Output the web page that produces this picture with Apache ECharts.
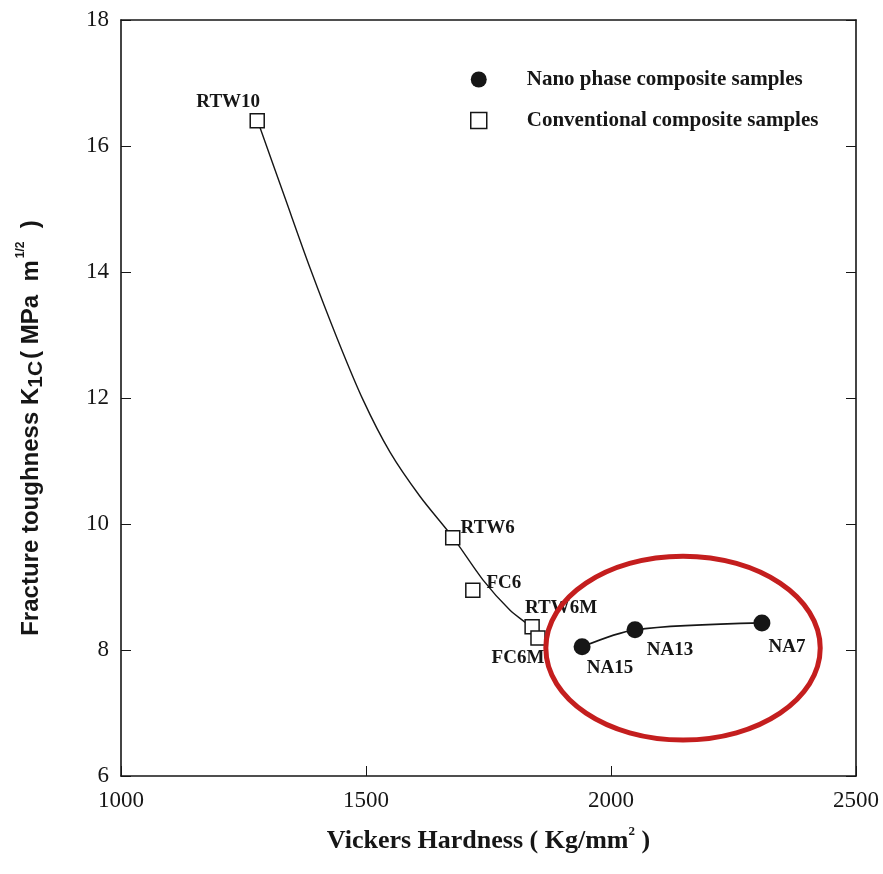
<!DOCTYPE html>
<html>
<head>
<meta charset="utf-8">
<script src="https://cdn.jsdelivr.net/npm/echarts@6/dist/echarts.min.js"></script>
<style>
  html, body { margin: 0; padding: 0; background: #fff; }
  #chart { width: 883px; height: 874px; }
</style>
</head>
<body>
<div id="chart"></div>
<script>
// Samples: Vickers hardness (Kg/mm^2) vs fracture toughness K1C (MPa m^1/2)
var conventionalNames = ['RTW10', 'RTW6', 'FC6', 'RTW6M', 'FC6M'];
var conventionalHardness = [1278, 1677, 1718, 1839, 1851];
var conventionalToughness = [16.4, 9.78, 8.95, 8.37, 8.19];

var nanoNames = ['NA15', 'NA13', 'NA7'];
var nanoHardness = [1941, 2049, 2308];
var nanoToughness = [8.05, 8.32, 8.43];

// Fitted trend through the conventional samples
var trendHardness = [1282, 1335, 1386, 1441, 1494, 1549, 1610, 1678, 1739, 1794, 1835, 1855];
var trendToughness = [16.33, 15.17, 14.06, 12.95, 11.97, 11.14, 10.44, 9.78, 9.11, 8.63, 8.37, 8.13];

// Axis ranges and ticks
var xTicks = [1000, 1500, 2000, 2500];
var yTicks = [6, 8, 10, 12, 14, 16, 18];

// Highlighted nano-phase region (data units)
var highlightCenter = [2147, 8.03];
var highlightRadius = [280, 1.46];

var legendNano = 'Nano phase composite samples';
var legendConv = 'Conventional composite samples';

// label offsets relative to each marker
var labelOffsets = {
  RTW10: [-29, -19], RTW6: [35, -10], FC6: [31, -7], RTW6M: [29, -19], FC6M: [-20, 20],
  NA15: [28, 21], NA13: [35, 20], NA7: [25, 24]
};

var serif = '"Liberation Serif", "DejaVu Serif", serif';
var sans = '"Liberation Sans", "DejaVu Sans", sans-serif';
var ink = '#161616';

function zip(xs, ys) { return xs.map(function (x, i) { return [x, ys[i]]; }); }
function labelled(names, xs, ys) {
  return names.map(function (n, i) {
    return {
      name: n, value: [xs[i], ys[i]],
      label: { show: true, position: 'inside', offset: labelOffsets[n], formatter: n }
    };
  });
}
function plain(v) { return String(v); }

var pointLabel = { color: ink, fontFamily: serif, fontWeight: 'bold', fontSize: 19 };

var chart = echarts.init(document.getElementById('chart'));
var option = {
  backgroundColor: '#fff',
  animation: false,
  grid: { left: 121, right: 27, top: 20, bottom: 98 },
  legend: {
    orient: 'vertical', left: 465, top: 64, itemGap: 20, itemWidth: 16, itemHeight: 16,
    textStyle: { color: ink, fontFamily: serif, fontWeight: 'bold', fontSize: 21, padding: [0, 0, 0, 35] },
    data: [
      { name: legendNano, icon: 'circle', itemStyle: { color: ink, borderWidth: 0 } },
      { name: legendConv, icon: 'rect', itemStyle: { color: '#fff', borderColor: ink, borderWidth: 1.5 } }
    ]
  },
  xAxis: [{
    type: 'value', min: xTicks[0], max: xTicks[xTicks.length - 1], interval: 500,
    name: '{t|Vickers Hardness ( Kg/mm}{s|2}{t| )}', nameLocation: 'middle', nameGap: 49,
    nameTextStyle: {
      rich: {
        t: { fontFamily: serif, fontWeight: 'bold', fontSize: 26, color: ink, lineHeight: 32 },
        s: { fontFamily: serif, fontWeight: 'bold', fontSize: 13, color: ink, verticalAlign: 'top', lineHeight: 32, padding: [0, 0, 10, 0] }
      }
    },
    axisLine: { lineStyle: { color: ink, width: 1.6 } },
    axisTick: { inside: true, length: 10, lineStyle: { color: ink } },
    axisLabel: { color: ink, fontFamily: serif, fontSize: 23, margin: 13, formatter: plain },
    splitLine: { show: false }
  }, {
    type: 'value', position: 'top', min: xTicks[0], max: xTicks[xTicks.length - 1], interval: 500,
    axisLine: { show: true, lineStyle: { color: ink, width: 1.6 } },
    axisTick: { show: false }, axisLabel: { show: false }, splitLine: { show: false }
  }],
  yAxis: [{
    type: 'value', min: yTicks[0], max: yTicks[yTicks.length - 1], interval: 2,
    name: '{t|Fracture toughness K}{b|1C}{t|( MPa  m}{p|1/2}{t|  )}',
    nameLocation: 'middle', nameGap: 74, nameRotate: 90,
    nameTextStyle: {
      padding: [0, 60, 0, 0],
      rich: {
        t: { fontFamily: sans, fontWeight: 'bold', fontSize: 24, color: ink, lineHeight: 32 },
        b: { fontFamily: sans, fontWeight: 'bold', fontSize: 21, color: ink, lineHeight: 32, verticalAlign: 'bottom', padding: [6, 2, 0, 0] },
        p: { fontFamily: sans, fontWeight: 'bold', fontSize: 12, color: ink, lineHeight: 32, verticalAlign: 'top', padding: [0, 0, 11, 2] }
      }
    },
    axisLine: { lineStyle: { color: ink, width: 1.6 } },
    axisTick: { inside: true, length: 10, lineStyle: { color: ink } },
    axisLabel: { color: ink, fontFamily: serif, fontSize: 23, margin: 12, formatter: plain },
    splitLine: { show: false }
  }, {
    type: 'value', position: 'right', min: yTicks[0], max: yTicks[yTicks.length - 1], interval: 2,
    axisLine: { show: true, lineStyle: { color: ink, width: 1.6 } },
    axisTick: { show: true, inside: true, length: 10, lineStyle: { color: ink } },
    axisLabel: { show: false }, splitLine: { show: false }
  }],
  series: [
    {
      name: 'trend', type: 'line', smooth: 0.3, showSymbol: false, silent: true,
      lineStyle: { color: ink, width: 1.4 },
      data: zip(trendHardness, trendToughness), z: 2
    },
    {
      name: 'nanoTrend', type: 'line', smooth: 0.3, showSymbol: false, silent: true,
      lineStyle: { color: ink, width: 1.6 },
      data: zip(nanoHardness, nanoToughness), z: 2
    },
    {
      name: legendConv, type: 'scatter', symbol: 'rect', symbolSize: 14,
      itemStyle: { color: '#fff', borderColor: ink, borderWidth: 1.5, opacity: 1 },
      label: pointLabel,
      data: labelled(conventionalNames, conventionalHardness, conventionalToughness), z: 3
    },
    {
      name: legendNano, type: 'scatter', symbol: 'circle', symbolSize: 17,
      itemStyle: { color: ink, opacity: 1 },
      label: pointLabel,
      data: labelled(nanoNames, nanoHardness, nanoToughness), z: 3
    }
  ]
};
chart.setOption(option);

// Red ellipse around the nano-phase samples, placed in data coordinates
var c = chart.convertToPixel({ gridIndex: 0 }, highlightCenter);
var e = chart.convertToPixel({ gridIndex: 0 }, [highlightCenter[0] + highlightRadius[0], highlightCenter[1] + highlightRadius[1]]);
chart.setOption({
  graphic: [{
    type: 'ellipse', z: 100,
    shape: { cx: c[0], cy: c[1], rx: Math.abs(e[0] - c[0]), ry: Math.abs(e[1] - c[1]) },
    style: { fill: 'none', stroke: '#c41e1e', lineWidth: 5 }
  }]
});
</script>
</body>
</html>
